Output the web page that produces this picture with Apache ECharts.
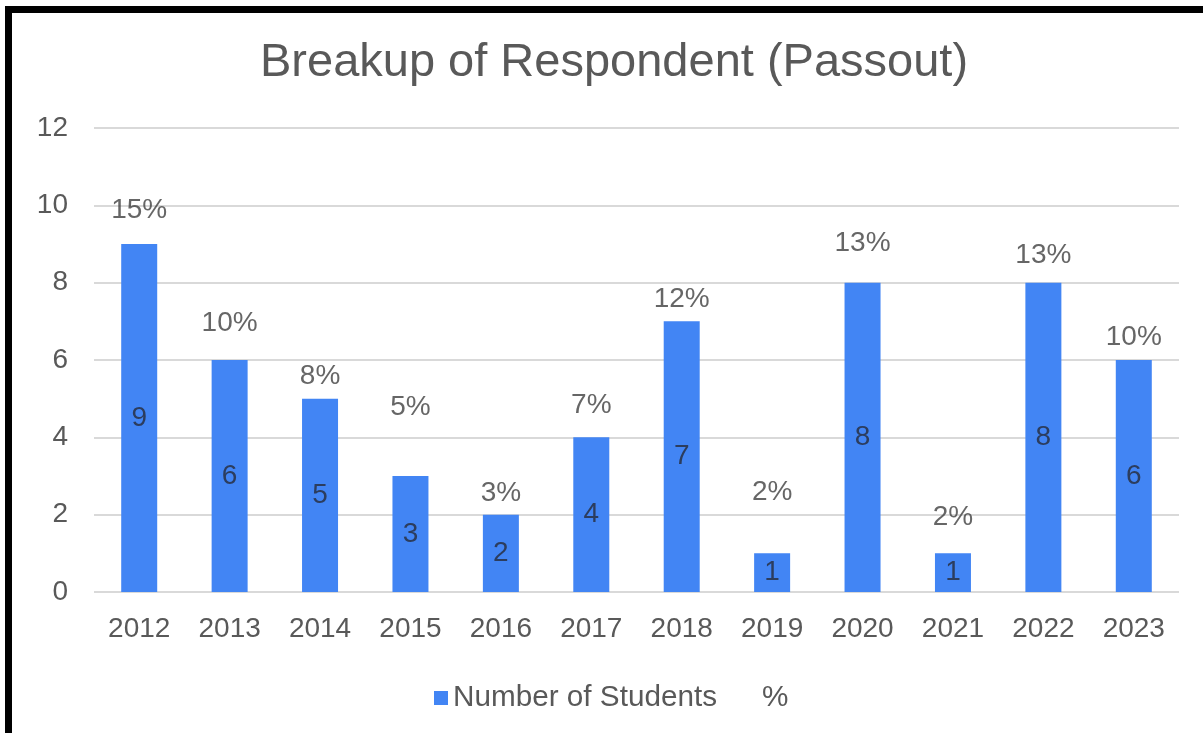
<!DOCTYPE html>
<html>
<head>
<meta charset="utf-8">
<script src="https://cdn.jsdelivr.net/npm/echarts@6/dist/echarts.min.js"></script>
<style>
  html, body { margin: 0; padding: 0; background: #fff; }
  #wrap { position: relative; width: 1203px; height: 733px; overflow: hidden; background: #fff; }
  #chart { position: absolute; left: 0; top: 0; width: 1203px; height: 733px; }
  #frame { position: absolute; left: 5px; top: 6px; width: 1300px; height: 800px;
           border-top: 7px solid #000; border-left: 7px solid #000; pointer-events: none; }
</style>
</head>
<body>
<div id="wrap">
  <div id="chart"></div>
  <div id="frame"></div>
</div>
<script>
// ---- data ----
const years = ['2012','2013','2014','2015','2016','2017','2018','2019','2020','2021','2022','2023'];
const students = [9, 6, 5, 3, 2, 4, 7, 1, 8, 1, 8, 6];
const percentLabels = ['15%','10%','8%','5%','3%','7%','12%','2%','13%','2%','13%','10%'];
// height (in axis units) at which each % label sits in the reference
const percentLabelAt = [9.88, 6.96, 5.59, 4.78, 2.56, 4.84, 7.58, 2.59, 9.03, 1.94, 8.71, 6.59];
const yTicks = { min: 0, max: 12, interval: 2 };

const font = '"Liberation Sans", Arial, sans-serif';
const chart = echarts.init(document.getElementById('chart'), null, { renderer: 'canvas' });

chart.setOption({
  animation: false,
  backgroundColor: '#fff',
  title: {
    text: 'Breakup of Respondent (Passout)',
    left: 255,
    top: 35,
    textStyle: { fontFamily: font, fontSize: 47, fontWeight: 'normal', color: '#595959' }
  },
  legend: {
    left: 429,
    top: 678,
    itemWidth: 14,
    itemHeight: 14,
    itemGap: 26,
    textStyle: { fontFamily: font, fontSize: 29.7, color: '#595959' },
    data: [
      { name: 'Number of Students', icon: 'rect' },
      { name: '%', icon: 'rect', itemStyle: { color: 'rgba(0,0,0,0)' } }
    ]
  },
  grid: { left: 94, right: 24, top: 128, bottom: 141, containLabel: false },
  xAxis: {
    type: 'category',
    data: years,
    axisLine: { show: false },
    axisTick: { show: false },
    axisLabel: { fontFamily: font, fontSize: 28, color: '#595959', margin: 23, interval: 0 }
  },
  yAxis: {
    type: 'value',
    min: yTicks.min, max: yTicks.max, interval: yTicks.interval,
    axisLine: { show: false },
    axisTick: { show: false },
    splitLine: { lineStyle: { color: '#d9d9d9', width: 2 } },
    axisLabel: { fontFamily: font, fontSize: 28, color: '#595959', margin: 26 }
  },
  series: [
    {
      name: 'Number of Students',
      type: 'bar',
      data: students,
      barWidth: 36,
      itemStyle: { color: '#4285F4' },
      label: {
        show: true,
        position: 'inside',
        fontFamily: font, fontSize: 28, color: '#2c3d5e'
      }
    },
    {
      name: '%',
      type: 'scatter',
      data: percentLabelAt.map((v, i) => ({ value: v, label: { formatter: percentLabels[i] } })),
      symbolSize: 1,
      itemStyle: { color: 'rgba(0,0,0,0)' },
      label: {
        show: true,
        position: 'inside',
        fontFamily: font, fontSize: 28, color: '#404040'
      },
      z: 5
    }
  ]
});
</script>
</body>
</html>
